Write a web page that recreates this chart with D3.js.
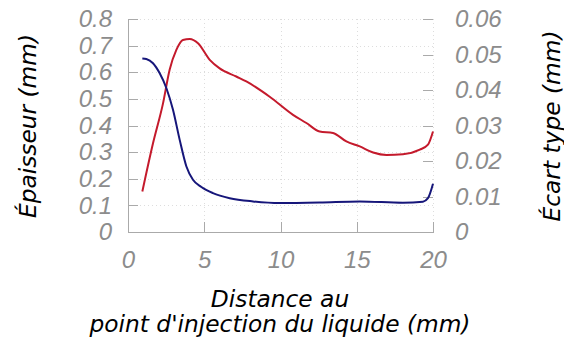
<!DOCTYPE html>
<meta charset="utf-8">
<style>
body { margin: 0; background: #fff; }
svg { font-family: "DejaVu Sans", sans-serif; font-style: italic; }
.tick text { fill: #8c8c8c; font-size: 24px; }
.axis path, .axis line { stroke: #aaa; fill: none; shape-rendering: crispEdges; }
.grid line { stroke: #ddd; stroke-dasharray: 1,3; shape-rendering: crispEdges; }
.title { fill: #000; font-size: 23.3px; }
</style>
<body>
<script src="https://cdn.jsdelivr.net/npm/d3@7"></script>
<script>
// distance (mm)
var distBlue = [0.94, 1.2, 1.64, 2.08, 2.52, 2.95, 3.39, 3.83, 4.26, 4.81, 5.57, 6.67, 8.2, 9.95, 12.57, 15.2, 18.03, 19.34, 19.67, 20];
// epaisseur (mm), left axis
var epaisseur = [0.652, 0.65, 0.634, 0.596, 0.54, 0.459, 0.346, 0.246, 0.196, 0.169, 0.146, 0.127, 0.115, 0.109, 0.111, 0.115, 0.11, 0.114, 0.127, 0.181];

var distRed = [0.94, 1.64, 2.3, 2.73, 3.17, 3.6, 4.05, 4.59, 5.36, 6.01, 7.1, 7.76, 9.29, 10.82, 11.7, 12.57, 13.44, 14.32, 15.2, 16.07, 16.95, 18.03, 19.13, 19.67, 20];
// ecart type (mm), right axis
var ecart = [0.0114, 0.025, 0.0363, 0.0457, 0.0513, 0.0541, 0.0544, 0.0532, 0.0485, 0.0461, 0.0438, 0.0424, 0.0381, 0.033, 0.0307, 0.0283, 0.0279, 0.0255, 0.0241, 0.0224, 0.0217, 0.0219, 0.0232, 0.0246, 0.0283];

var xTicks = [0, 5, 10, 15, 20];
var leftTicks = [0, 0.1, 0.2, 0.3, 0.4, 0.5, 0.6, 0.7, 0.8];
var rightTicks = [0, 0.01, 0.02, 0.03, 0.04, 0.05, 0.06];

var W = 564, H = 345;
var pl = 128, pr = 433, pt = 19, pb = 232;

var svg = d3.select("body").append("svg").attr("width", W).attr("height", H);

var x = d3.scaleLinear().domain([0, 20]).range([pl, pr]);
var yL = d3.scaleLinear().domain([0, 0.8]).range([pb, pt]);
var yR = d3.scaleLinear().domain([0, 0.06]).range([pb, pt]);

// grid
var grid = svg.append("g").attr("class", "grid");
grid.selectAll(".h").data(leftTicks.slice(1)).enter().append("line")
  .attr("x1", pl).attr("x2", pr)
  .attr("y1", function(d) { return Math.round(yL(d)) + 0.5; })
  .attr("y2", function(d) { return Math.round(yL(d)) + 0.5; });
grid.selectAll(".v").data(xTicks.slice(1)).enter().append("line")
  .attr("y1", pt).attr("y2", pb)
  .attr("x1", function(d) { return Math.round(x(d)) + 0.5; })
  .attr("x2", function(d) { return Math.round(x(d)) + 0.5; });

// axes
svg.append("g").attr("class", "axis")
  .attr("transform", "translate(0," + pb + ")")
  .call(d3.axisBottom(x).tickValues(xTicks).tickSize(-10).tickPadding(19).tickSizeOuter(0));

svg.append("g").attr("class", "axis")
  .attr("transform", "translate(" + pl + ",0)")
  .call(d3.axisLeft(yL).tickValues(leftTicks).tickSize(-10).tickPadding(16).tickSizeOuter(0)
    .tickFormat(function(d) { return d === 0 ? "0" : d3.format(".1f")(d); }));

var ra = svg.append("g").attr("class", "axis")
  .attr("transform", "translate(" + pr + ",0)")
  .call(d3.axisRight(yR).tickValues(rightTicks).tickSize(-10).tickPadding(22).tickSizeOuter(0)
    .tickFormat(function(d) { return d === 0 ? "0" : d3.format(".2f")(d); }));
ra.select(".domain").remove();

// lines
var lineL = d3.line().x(function(d) { return x(d[0]); }).y(function(d) { return yL(d[1]); }).curve(d3.curveMonotoneX);
var lineR = d3.line().x(function(d) { return x(d[0]); }).y(function(d) { return yR(d[1]); }).curve(d3.curveMonotoneX);

svg.append("path").datum(d3.zip(distRed, ecart))
  .attr("d", lineR).attr("fill", "none").attr("stroke", "#c41a2c").attr("stroke-width", 2);
svg.append("path").datum(d3.zip(distBlue, epaisseur))
  .attr("d", lineL).attr("fill", "none").attr("stroke", "#16167a").attr("stroke-width", 2);

// titles
svg.append("text").attr("class", "title").attr("text-anchor", "middle")
  .attr("transform", "translate(36,126) rotate(-90)").text("Épaisseur (mm)");
svg.append("text").attr("class", "title").attr("text-anchor", "middle")
  .attr("transform", "translate(560,126) rotate(-90)").text("Écart type (mm)");
svg.append("text").attr("class", "title").attr("text-anchor", "middle")
  .attr("x", 280).attr("y", 307).text("Distance au");
svg.append("text").attr("class", "title").attr("text-anchor", "middle")
  .attr("x", 280).attr("y", 332).text("point d'injection du liquide (mm)");
</script>
</body>
